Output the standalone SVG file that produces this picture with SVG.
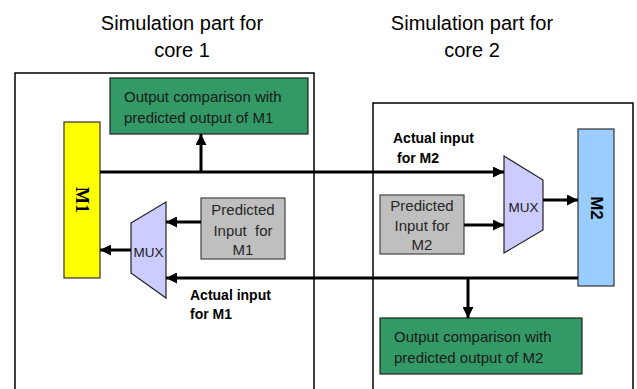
<svg xmlns="http://www.w3.org/2000/svg" width="637" height="389" viewBox="0 0 637 389">
<style>
.panel{fill:none;stroke:#000;stroke-width:1.5}
.title{font-family:"Liberation Sans",Arial,sans-serif;font-size:20px;fill:#000;text-anchor:middle}
.green{fill:#339966;stroke:#222;stroke-width:1.2}
.gray{fill:#bfbfbf;stroke:#444;stroke-width:1.2}
.mux{fill:#ccccff;stroke:#222;stroke-width:1.2}
.box{font-family:"Liberation Sans",Arial,sans-serif;font-size:15px;fill:#1a1a1a}
.pred{font-family:"Liberation Sans",Arial,sans-serif;font-size:15px;fill:#262626;text-anchor:middle}
.muxt{font-family:"Liberation Sans",Arial,sans-serif;font-size:13.5px;fill:#1a1a1a;text-anchor:middle}
.lbl{font-family:"Liberation Sans",Arial,sans-serif;font-size:14px;font-weight:bold;fill:#000}
.conn{fill:none;stroke:#000;stroke-width:3;marker-end:url(#ah)}
</style>
<defs>
<marker id="ah" markerUnits="userSpaceOnUse" markerWidth="11" markerHeight="11" refX="11" refY="5.5" orient="auto">
<path d="M0,0 L11,5.5 L0,11 z" fill="#000"/>
</marker>
</defs>
<rect width="637" height="389" fill="#fff"/>
<g id="titles">
<text class="title" x="182" y="30">Simulation part for</text>
<text class="title" x="182" y="57">core 1</text>
<text class="title" x="472" y="30">Simulation part for</text>
<text class="title" x="472" y="57">core 2</text>
</g>
<g id="panel1"><path class="panel" d="M15,395 V73 H314 V395"/></g>
<g id="panel2"><path class="panel" d="M373,395 V103 H633 V395"/></g>
<g id="cmp1">
<rect class="green" x="110" y="78" width="198" height="56"/>
<text class="box" x="124" y="102">Output comparison with</text>
<text class="box" x="124" y="123">predicted output of M1</text>
</g>
<g id="m1">
<rect x="64" y="122" width="36" height="156" fill="#ffff00" stroke="#333" stroke-width="1.2"/>
<text x="82" y="200" transform="rotate(90 82 200)" font-family="'Liberation Serif','Times New Roman',serif" font-weight="bold" font-size="18" text-anchor="middle" dominant-baseline="central" fill="#000">M1</text>
</g>
<g id="mux1">
<polygon class="mux" points="131,223 166,202 166,298 131,273"/>
<text class="muxt" x="148.5" y="257">MUX</text>
</g>
<g id="pred1">
<rect class="gray" x="201" y="198" width="84" height="61"/>
<text class="pred" x="243" y="215">Predicted</text>
<text class="pred" x="243" y="236" xml:space="preserve">Input  for</text>
<text class="pred" x="243" y="255">M1</text>
</g>
<g id="m2">
<rect x="578" y="129" width="36" height="157" fill="#99ccff" stroke="#333" stroke-width="1.2"/>
<text x="596" y="208" transform="rotate(90 596 208)" font-family="'Liberation Sans',Arial,sans-serif" font-weight="bold" font-size="17" text-anchor="middle" dominant-baseline="central" fill="#000">M2</text>
</g>
<g id="mux2">
<polygon class="mux" points="504,156 543,180 543,230 504,253"/>
<text class="muxt" x="523.5" y="212">MUX</text>
</g>
<g id="pred2">
<rect class="gray" x="380" y="195" width="84" height="59"/>
<text class="pred" x="422" y="211">Predicted</text>
<text class="pred" x="422" y="231">Input for</text>
<text class="pred" x="422" y="250">M2</text>
</g>
<g id="cmp2">
<rect class="green" x="380" y="318" width="202" height="56"/>
<text class="box" x="394" y="342">Output comparison with</text>
<text class="box" x="394" y="363">predicted output of M2</text>
</g>
<g id="labels">
<text class="lbl" x="190" y="300">Actual input</text>
<text class="lbl" x="190" y="319">for M1</text>
<text class="lbl" x="393" y="143">Actual input</text>
<text class="lbl" x="397" y="163">for M2</text>
</g>
<g id="connectors">
<path class="conn" d="M100,172 H504"/>
<path class="conn" d="M201,172 V134"/>
<path class="conn" d="M201,222 H166"/>
<path class="conn" d="M131,250 H100"/>
<path class="conn" d="M578,278 H166"/>
<path class="conn" d="M468,278 V318"/>
<path class="conn" d="M464,225 H504"/>
<path class="conn" d="M543,200 H578"/>
</g>
</svg>
